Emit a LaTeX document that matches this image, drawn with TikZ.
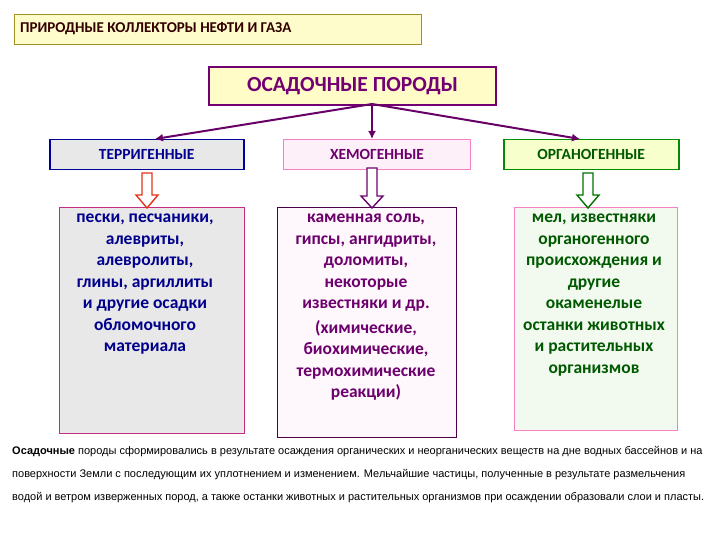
\documentclass[tikz,border=0pt]{standalone}
\usepackage{fontspec}
\setmainfont{Carlito}
\newfontfamily\bodyf{Liberation Sans}
\usetikzlibrary{arrows.meta}
\begin{document}
\begin{tikzpicture}[x=1pt,y=-1pt,
  box/.style={draw,line width=1pt,inner sep=0pt,anchor=north west},
  lbl/.style={font=\fontsize{15.5}{18}\selectfont\bfseries},
  big/.style={font=\fontsize{17.5}{21.5}\selectfont\bfseries,align=center,anchor=north,inner sep=0pt},
  conn/.style={draw=violet!80!black,line width=2pt,-{Latex[length=8pt,width=8pt]}},
  hollow/.style={line width=1.4pt,fill=white},
  btxt/.style={anchor=west,font=\bodyf\fontsize{11}{13}\selectfont,inner sep=0pt}]
\useasboundingbox (0,0) rectangle (720,540);
\fill[white] (0,0) rectangle (720,540);
% title
\node[box,draw=olive!60!brown,fill=yellow!20,minimum width=407pt,minimum height=30pt] (title) at (14,14) {};
\node[anchor=west,font=\fontsize{15}{18}\selectfont\bfseries,text=black!80!red,inner sep=0pt] (tt) at (20,29) {ПРИРОДНЫЕ КОЛЛЕКТОРЫ НЕФТИ И ГАЗА};
% main
\node[box,draw=violet!90!black,line width=2pt,fill=yellow!22,minimum width=287pt,minimum height=38pt] (main) at (208,66) {};
\node[font=\fontsize{21.5}{24}\selectfont\bfseries,text=violet!90!black] (mt) at (main.center) {ОСАДОЧНЫЕ ПОРОДЫ};
% categories
\node[box,draw=blue!60!black,line width=1.5pt,fill=gray!18,minimum width=194pt,minimum height=30pt] (ter) at (49,139) {};
\node[lbl,text=blue!55!black] (tert) at (ter.center) {ТЕРРИГЕННЫЕ};
\node[box,draw=magenta!50,fill=magenta!6,minimum width=187pt,minimum height=30pt] (him) at (283,139) {};
\node[lbl,text=violet!85!black] (himt) at (him.center) {ХЕМОГЕННЫЕ};
\node[box,draw=green!55!black,line width=1.5pt,fill=green!15!yellow!20,minimum width=175pt,minimum height=30pt] (org) at (503,139) {};
\node[lbl,text=green!35!black] (orgt) at (org.center) {ОРГАНОГЕННЫЕ};
\coordinate (o) at (372,104);
\coordinate (t1) at (155,139);
\coordinate (t2) at (372,139);
\coordinate (t3) at (580,139);
\draw[conn] (o) -- (t1);
\draw[conn] (o) -- (t2);
\draw[conn] (o) -- (t3);
% lower boxes
\node[box,draw=magenta!60!violet,line width=0.7pt,fill=gray!18,minimum width=185pt,minimum height=226pt] (b1) at (59,207) {};
\node[box,draw=violet!60!black,line width=0.9pt,fill=magenta!3,minimum width=179pt,minimum height=230pt] (b2) at (277,207) {};
\node[box,draw=magenta!50,line width=0.7pt,fill=yellow!12!green!6,minimum width=163pt,minimum height=223pt] (b3) at (514,207) {};
\node[big,text=blue!55!black] (b1t) at (145,214) {пески, песчаники,\\алевриты,\\алевролиты,\\глины, аргиллиты\\и другие осадки\\обломочного\\материала};
\node[big,text=violet!85!black] (b2t) at (366,214) {каменная соль,\\гипсы, ангидриты,\\доломиты,\\некоторые\\известняки и др.\\[3pt](химические,\\биохимические,\\термохимические\\реакции)};
\node[big,text=green!35!black] (b3t) at (594,214) {мел, известняки\\органогенного\\происхождения и\\другие\\окаменелые\\останки животных\\и растительных\\организмов};
% hollow arrows
\draw[hollow,draw=red!60!brown] (142,173) -- (152,173) -- (152,195) -- (158,195) -- (147,208) -- (136,195) -- (142,195) -- cycle;
\draw[hollow,draw=violet!85!black] (367,168) -- (377,168) -- (377,196) -- (383,196) -- (372,208) -- (361,196) -- (367,196) -- cycle;
\draw[hollow,draw=green!45!black] (583,173) -- (593,173) -- (593,195) -- (599,195) -- (588,208) -- (577,195) -- (583,195) -- cycle;
% bottom text
\node[btxt] (l1) at (12,452) {\textbf{Осадочные} породы сформировались в результате осаждения органических и неорганических веществ на дне водных бассейнов и на};
\node[btxt] (l2) at (12,475) {поверхности Земли с последующим их уплотнением и изменением. Мельчайшие частицы, полученные в результате размельчения};
\node[btxt] (l3) at (12,498) {водой и ветром изверженных пород, а также останки животных и растительных организмов при осаждении образовали слои и пласты.};
\end{tikzpicture}
\end{document}
